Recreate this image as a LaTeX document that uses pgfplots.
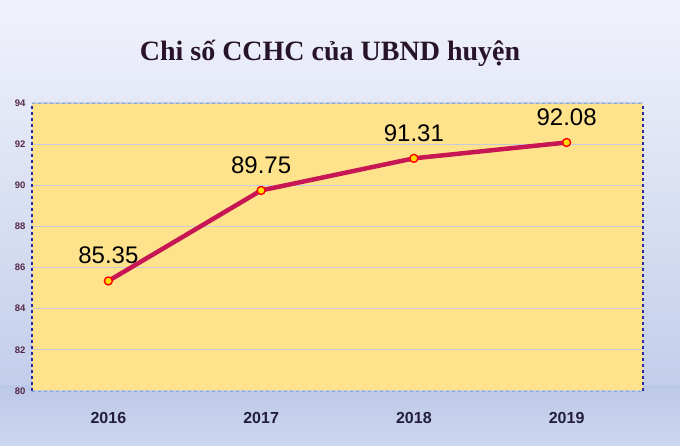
\documentclass[border=0pt]{standalone}
\usepackage{pgfplots}
\pgfplotsset{compat=1.18}
\usepackage{fontspec}
\setmainfont{Liberation Sans}
\newfontfamily\serifbf{Liberation Serif}
\definecolor{bgtop}{RGB}{240,242,251}
\definecolor{bgmid}{RGB}{188,200,232}
\definecolor{bgbot}{RGB}{205,214,238}
\definecolor{plotfill}{RGB}{255,227,140}
\definecolor{gridc}{RGB}{200,202,220}
\definecolor{linec}{RGB}{200,22,85}
\definecolor{titlec}{RGB}{40,20,40}
\definecolor{tickc}{RGB}{85,40,75}
\definecolor{xtickc}{RGB}{35,30,60}
\definecolor{darkblue}{RGB}{40,40,165}
\definecolor{lightblue}{RGB}{125,170,220}
\begin{document}
\begin{tikzpicture}[x=1pt,y=1pt]
\shade[top color=bgtop, bottom color=bgmid, middle color={rgb,255:red,215;green,222;blue,242}] (0,0) rectangle (680,445);
\shade[top color=bgmid, bottom color=bgbot] (0,0) rectangle (680,60);
\node[font=\serifbf\bfseries\fontsize{28}{32}\selectfont, text=titlec] at (330,392) {Chi số CCHC của UBND huyện};
\begin{axis}[
  at={(32pt,54pt)}, anchor=south west,
  scale only axis, width=611pt, height=288pt,
  xmin=-0.5, xmax=3.5, ymin=80, ymax=94,
  xtick={0,1,2,3}, xticklabels={2016,2017,2018,2019},
  ytick={80,82,...,94},
  axis line style={draw=none},
  axis background/.style={fill=plotfill},
  ymajorgrids, grid style={gridc, line width=1.2pt},
  major tick length=0pt,
  xticklabel style={font=\bfseries\fontsize{16}{18}\selectfont, text=xtickc, yshift=-18pt},
  yticklabel style={font=\bfseries\fontsize{9.5}{10}\selectfont, text=tickc, xshift=-3pt},
  /pgf/number format/assume math mode=true,
  clip=false,
  nodes near coords,
  nodes near coords style={font=\fontsize{24}{26}\selectfont, text=black, anchor=south, yshift=13pt},
  point meta=explicit symbolic,
]
\addplot[linec, line width=4.5pt, line join=round, mark=*, mark size=4pt,
  mark options={fill=yellow!80!orange, draw=red, line width=1.4pt}]
  coordinates {(0,85.35)[85.35] (1,89.75)[89.75] (2,91.31)[91.31] (3,92.08)[92.08]};
\draw[lightblue, dashed, line width=1pt] (rel axis cs:0,1) -- (rel axis cs:1,1);
\draw[lightblue, dashed, line width=1pt] (rel axis cs:0,0) -- (rel axis cs:1,0);
\draw[darkblue, dashed, line width=1.5pt] (rel axis cs:0,0) -- (rel axis cs:0,1);
\draw[darkblue, dashed, line width=1.5pt] (rel axis cs:1,0) -- (rel axis cs:1,1);
\end{axis}
\end{tikzpicture}
\end{document}
